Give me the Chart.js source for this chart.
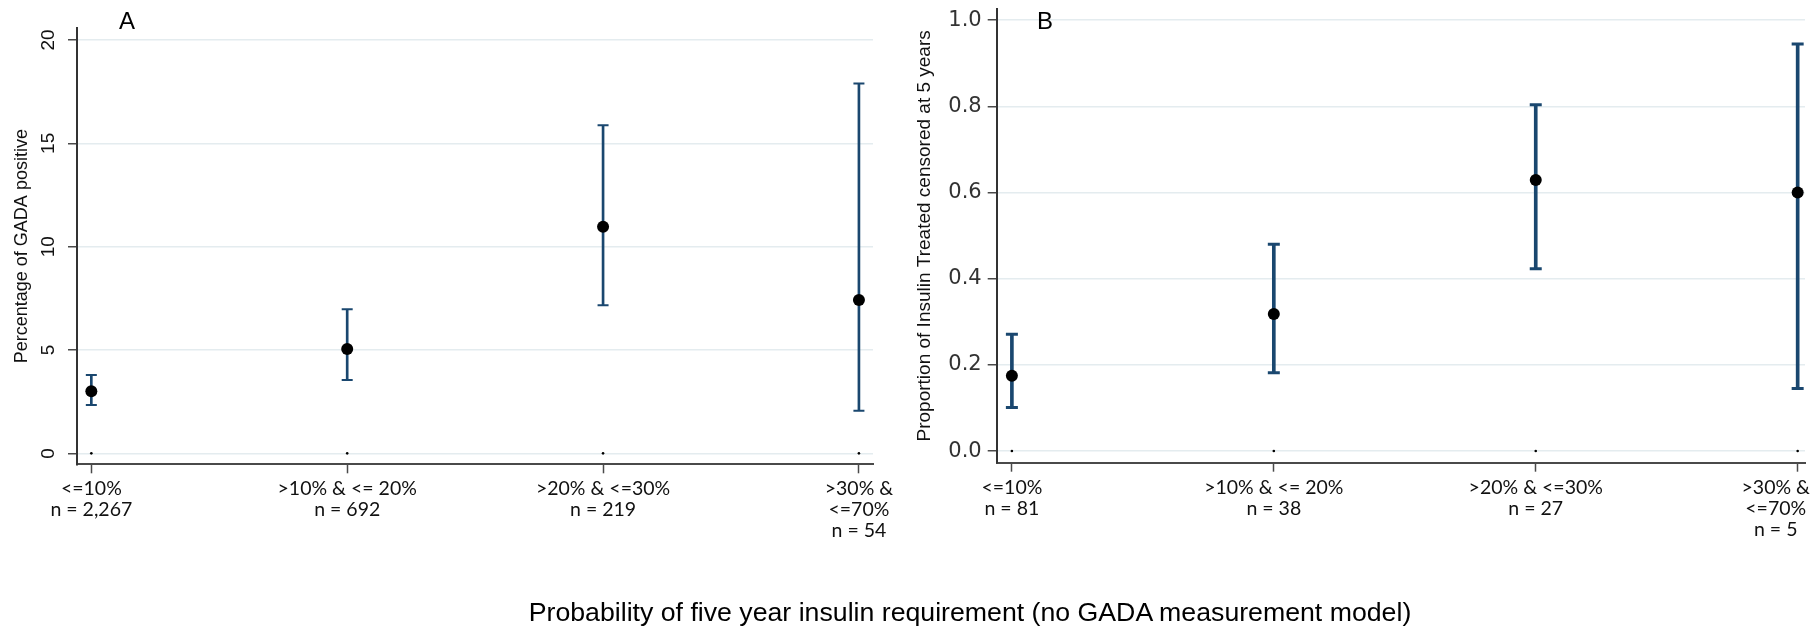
<!DOCTYPE html>
<html>
<head>
<meta charset="utf-8">
<title>GADA and insulin treatment by predicted probability group</title>
<script src="https://cdn.jsdelivr.net/npm/chart.js@4.4.0/dist/chart.umd.min.js"></script>
<style>
  html, body { margin: 0; padding: 0; background: #fff; }
  #page { position: relative; width: 1818px; height: 631px; overflow: hidden; }
  canvas { position: absolute; top: 0; }
  #chartA { left: 0; }
  #chartB { left: 900px; }
  .letter, #xtitle {
    position: absolute;
    font-family: "Liberation Sans", Arial, sans-serif;
    color: #000;
    line-height: 1;
    transform: translate(-50%, -50%);
    white-space: nowrap;
  }
  .letter { font-size: 24px; top: 21px; }
  #letterA { left: 127px; }
  #letterB { left: 1045px; }
  #xtitle { font-size: 26.7px; left: 970px; top: 612px; }
</style>
</head>
<body>
<div id="page">
  <canvas id="chartA" width="900" height="631"></canvas>
  <canvas id="chartB" width="918" height="631"></canvas>
  <div class="letter" id="letterA">A</div>
  <div class="letter" id="letterB">B</div>
  <div id="xtitle">Probability of five year insulin requirement (no GADA measurement model)</div>
</div>
<script>
// Risk groups (x positions 1..4) and their labels
const groupX = [1, 2, 3, 4];
const groupNames = [['<=10%'], ['>10% & <= 20%'], ['>20% & <=30%'], ['>30% &', '<=70%']];

// Panel A: % GADA positive with 95% CI
const countsA = ['2,267', '692', '219', '54'];
const pctA = [3.0, 5.05, 10.96, 7.42];
const lowA = [2.34, 3.55, 7.16, 2.06];
const highA = [3.79, 6.97, 15.87, 17.9];
const yTicksA = [0, 5, 10, 15, 20];

// Panel B: proportion insulin treated at 5 years with 95% CI
const countsB = ['81', '38', '27', '5'];
const propB = [0.175, 0.318, 0.629, 0.600];
const lowB = [0.101, 0.182, 0.423, 0.145];
const highB = [0.271, 0.480, 0.804, 0.945];
const yTicksB = [0, 0.2, 0.4, 0.6, 0.8, 1.0];

const NAVY = '#1a476f';
const GRID = '#e4ecef';
const AXIS = '#4a4a4a';

function buildPanel(canvasId, p) {
  const pts = (vals) => groupX.map((x, i) => ({ x: x, y: vals[i] }));
  const ctx = document.getElementById(canvasId).getContext('2d');
  return new Chart(ctx, {
    type: 'scatter',
    data: {
      datasets: [
        {
          // point estimates
          data: pts(p.values),
          pointRadius: 6,
          pointBackgroundColor: '#000',
          pointBorderWidth: 0,
          order: 0
        },
        {
          // whisker caps
          data: pts(p.low).concat(pts(p.high)),
          pointStyle: 'line',
          pointRadius: p.capRadius,
          pointBorderWidth: p.lineWidth,
          pointBorderColor: NAVY,
          order: 1
        },
        {
          // whiskers as thin floating bars
          type: 'bar',
          data: groupX.map((x, i) => ({ x: x, y: [p.low[i], p.high[i]] })),
          backgroundColor: NAVY,
          borderWidth: 0,
          barThickness: p.lineWidth,
          order: 2
        },
        {
          // baseline markers
          data: pts(groupX.map(() => 0)),
          pointRadius: 1.3,
          pointBackgroundColor: '#000',
          pointBorderWidth: 0,
          order: 3
        }
      ]
    },
    options: {
      responsive: false,
      devicePixelRatio: 1,
      animation: false,
      events: [],
      layout: { padding: { top: p.padTop, right: p.padRight, left: 0, bottom: 0 } },
      plugins: { legend: { display: false }, tooltip: { enabled: false } },
      scales: {
        x: {
          type: 'linear',
          min: p.xMin,
          max: p.xMax,
          offset: false,
          afterBuildTicks: (scale) => { scale.ticks = groupX.map(v => ({ value: v })); },
          afterFit: (scale) => {
            scale.height = p.xHeight;
            scale.paddingLeft = 0; scale.paddingRight = 0;
          },
          grid: {
            drawOnChartArea: false,
            drawTicks: true,
            tickLength: 9,
            tickColor: AXIS,
            tickWidth: 1.5,
            offset: false
          },
          border: { color: AXIS, width: 2 },
          ticks: {
            autoSkip: false,
            maxRotation: 0,
            minRotation: 0,
            padding: 5,
            color: '#111',
            font: { family: 'Lato', size: 19.5, lineHeight: 1.08 },
            callback: (value) => {
              const i = groupX.indexOf(value);
              if (i < 0) return '';
              const lines = groupNames[i].concat('n = ' + p.counts[i]);
              // last group is nudged left so it stays inside the panel
              return i === groupX.length - 1 ? lines.map(s => s + p.lastPad) : lines;
            }
          }
        },
        y: {
          type: 'linear',
          min: p.yMin,
          max: p.yMax,
          afterBuildTicks: (scale) => { scale.ticks = p.yTicks.map(v => ({ value: v })); },
          afterFit: (scale) => {
            scale.width = p.yWidth;
            scale.paddingTop = 0; scale.paddingBottom = 0;
          },
          grid: {
            color: GRID,
            lineWidth: 1.5,
            drawTicks: true,
            tickLength: 9,
            tickColor: AXIS,
            tickWidth: 1.5
          },
          border: { color: '#333', width: 2 },
          title: {
            display: true,
            text: p.yTitle,
            color: '#111',
            font: { family: 'Liberation Sans', size: p.titleSize },
            padding: { top: p.titlePad, bottom: 0 }
          },
          ticks: p.yTickOpts
        }
      }
    }
  });
}

buildPanel('chartA', {
  values: pctA, low: lowA, high: highA, counts: countsA, yTicks: yTicksA,
  yMin: -0.53, yMax: 20.58, xMin: 0.944, xMax: 4.055,
  yWidth: 77, xHeight: 166.7, padTop: 28, padRight: 27,
  lineWidth: 2, capRadius: 5.5, lastPad: '',
  yTitle: 'Percentage of GADA positive', titleSize: 18, titlePad: 11.2,
  yTickOpts: {
    minRotation: 90, maxRotation: 90,
    crossAlign: 'center',
    padding: 8.5,
    color: '#111',
    font: { family: 'Liberation Sans', size: 19 }
  }
});

buildPanel('chartB', {
  values: propB, low: lowB, high: highB, counts: countsB, yTicks: yTicksB,
  yMin: -0.027, yMax: 1.026, xMin: 0.942, xMax: 4.028,
  yWidth: 96.7, xHeight: 168.3, padTop: 6, padRight: 13,
  lineWidth: 3, capRadius: 6, lastPad: '\u2003\u2003\u2003',
  yTitle: 'Proportion of Insulin Treated censored at 5 years', titleSize: 19, titlePad: 13.6,
  yTickOpts: {
    padding: 6,
    color: '#333',
    font: { family: 'DejaVu Sans', size: 21 },
    callback: (value) => value.toFixed(1)
  }
});
</script>
</body>
</html>
